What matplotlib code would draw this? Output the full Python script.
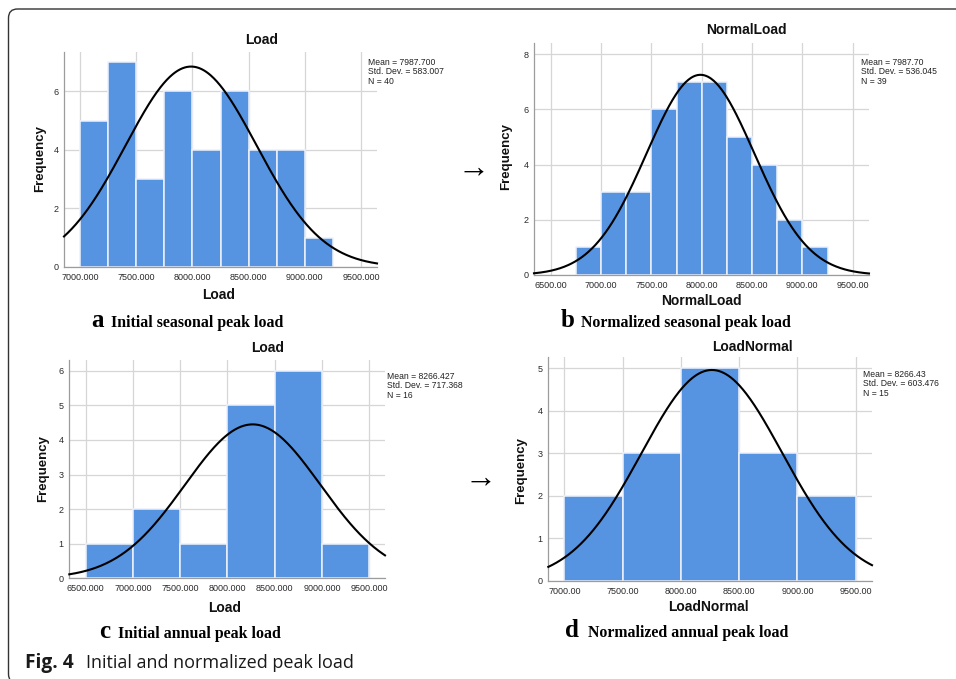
import numpy as np
import matplotlib
matplotlib.use('Agg')
import matplotlib.pyplot as plt
from matplotlib.patches import FancyBboxPatch
from matplotlib.transforms import IdentityTransform

W, H = 956, 679

# histogram data
a_counts = [5, 7, 3, 6, 4, 6, 4, 4, 1]
a_start, a_width = 7000, 250
a_mean, a_sd, a_n = 7987.700, 583.007, 40

b_counts = [1, 3, 3, 6, 7, 7, 5, 4, 2, 1]
b_start, b_width = 6750, 250
b_mean, b_sd, b_n = 7987.70, 536.045, 39

c_counts = [1, 2, 1, 5, 6, 1]
c_start, c_width = 6500, 500
c_mean, c_sd, c_n = 8266.427, 717.368, 16

d_counts = [2, 3, 5, 3, 2]
d_start, d_width = 7000, 500
d_mean, d_sd, d_n = 8266.43, 603.476, 15

a_xticks = [7000, 7500, 8000, 8500, 9000, 9500]
b_xticks = [6500, 7000, 7500, 8000, 8500, 9000, 9500]
c_xticks = [6500, 7000, 7500, 8000, 8500, 9000, 9500]
d_xticks = [7000, 7500, 8000, 8500, 9000, 9500]

a_stats = "Mean = 7987.700\nStd. Dev. = 583.007\nN = 40"
b_stats = "Mean = 7987.70\nStd. Dev. = 536.045\nN = 39"
c_stats = "Mean = 8266.427\nStd. Dev. = 717.368\nN = 16"
d_stats = "Mean = 8266.43\nStd. Dev. = 603.476\nN = 15"

BAR = '#5694e1'
SANS = 'Liberation Sans'
SERIF = ['Liberation Serif', 'DejaVu Serif']

fig = plt.figure(figsize=(W / 100, H / 100), dpi=100)
fig.patch.set_facecolor('white')


def px_axes(left, top, right, bottom):
    return fig.add_axes([left / W, 1 - bottom / H, (right - left) / W, (bottom - top) / H])


def ftext(x, y, s, **kw):
    return fig.text(x / W, 1 - y / H, s, **kw)


#draw one SPSS style histogram with its normal curve
def histPanel(box, counts, start, width, mean, sd, n, xlim, ylim, xticks, yticks, fmt):
    ax = px_axes(*box)
    edges = start + width * np.arange(len(counts))
    ax.bar(edges, counts, width=width, align='edge', color=BAR,
           edgecolor='#eef2fa', linewidth=1.1, zorder=2)

    xs = np.linspace(xlim[0], xlim[1], 400)
    ys = n * width / (sd * np.sqrt(2 * np.pi)) * np.exp(-0.5 * ((xs - mean) / sd) ** 2)
    ax.plot(xs, ys, color='black', lw=1.5, zorder=3, clip_on=False)

    ax.set_xlim(*xlim)
    ax.set_ylim(*ylim)
    ax.set_xticks(xticks)
    ax.set_xticklabels([fmt % t for t in xticks])
    ax.set_yticks(yticks)
    ax.grid(True, color='#d6d6d6', lw=0.9, zorder=0)
    ax.set_axisbelow(True)
    for s in ['top', 'right']:
        ax.spines[s].set_visible(False)
    for s in ['left', 'bottom']:
        ax.spines[s].set_color('#9c9c9c')
        ax.spines[s].set_linewidth(0.9)
    ax.tick_params(length=0, labelsize=6.5, labelcolor='#2a2a2a')
    ax.tick_params(axis='x', pad=4)
    ax.tick_params(axis='y', pad=4)
    for lab in ax.get_xticklabels() + ax.get_yticklabels():
        lab.set_family(SANS)
    return ax


histPanel((64, 52, 377, 267), a_counts, a_start, a_width, a_mean, a_sd, a_n,
          (6857, 9642), (0, 7.34), a_xticks, [0, 2, 4, 6], '%.3f')
histPanel((534, 42.7, 869, 275), b_counts, b_start, b_width, b_mean, b_sd, b_n,
          (6334, 9662), (0, 8.42), b_xticks, [0, 2, 4, 6, 8], '%.2f')
histPanel((69.3, 360, 385, 578.3), c_counts, c_start, c_width, c_mean, c_sd, c_n,
          (6327, 9666), (0, 6.31), c_xticks, [0, 1, 2, 3, 4, 5, 6], '%.3f')
histPanel((548.3, 356.7, 872, 581), d_counts, d_start, d_width, d_mean, d_sd, d_n,
          (6863, 9640), (0, 5.27), d_xticks, [0, 1, 2, 3, 4, 5], '%.2f')

# titles, axis labels
bold = dict(family=SANS, fontweight='bold', fontsize=10, color='#111111',
            ha='center', va='center')
ftext(262, 40, 'Load', **bold)
ftext(746, 30, 'NormalLoad', **bold)
ftext(268, 348, 'Load', **bold)
ftext(752, 347, 'LoadNormal', **bold)

ftext(219, 295, 'Load', **bold)
ftext(701, 301, 'NormalLoad', **bold)
ftext(225, 608, 'Load', **bold)
ftext(708, 607, 'LoadNormal', **bold)

ftext(40, 158, 'Frequency', rotation=90, **dict(bold, fontsize=9.5))
ftext(506, 157, 'Frequency', rotation=90, **dict(bold, fontsize=9.5))
ftext(43, 468, 'Frequency', rotation=90, **dict(bold, fontsize=9.5))
ftext(521, 470, 'Frequency', rotation=90, **dict(bold, fontsize=9.5))

# stats boxes
st = dict(family=SANS, fontsize=6.2, color='#222222', ha='left', va='top', linespacing=1.05)
ftext(368, 58, a_stats, **st)
ftext(861, 58, b_stats, **st)
ftext(387, 372, c_stats, **st)
ftext(863, 370, d_stats, **st)

# arrows between panels
ftext(474, 169, '\u2192', family=SERIF, fontsize=23, ha='center', va='center')
ftext(481, 479, '\u2192', family=SERIF, fontsize=23, ha='center', va='center')

# sub captions
big = dict(family=SERIF, fontweight='bold', fontsize=18, ha='left', va='baseline')
cap = dict(family=SERIF, fontweight='bold', fontsize=11.4, ha='left', va='baseline')
ftext(91, 327, 'a', **big)
ftext(111, 327, 'Initial seasonal peak load', **cap)
ftext(561, 327, 'b', **big)
ftext(581, 327, 'Normalized seasonal peak load', **cap)
ftext(99, 638, 'c', **big)
ftext(118, 638, 'Initial annual peak load', **cap)
ftext(565, 637, 'd', **big)
ftext(588, 637, 'Normalized annual peak load', **cap)

# figure caption
ftext(25, 668, 'Fig. 4', family='Open Sans', fontweight='bold', fontsize=13.8,
      ha='left', va='baseline', color='#1a1a1a')
ftext(86, 668, 'Initial and normalized peak load', family='Open Sans', fontsize=13.0,
      ha='left', va='baseline', color='#1a1a1a')

# rounded frame round the figure
frame = FancyBboxPatch((8.5, -4), 980, 674, boxstyle='round,pad=0,rounding_size=9',
                       transform=IdentityTransform(), facecolor='none',
                       edgecolor='#333333', linewidth=1.0)
fig.add_artist(frame)

fig.savefig('out.png', dpi=100)
